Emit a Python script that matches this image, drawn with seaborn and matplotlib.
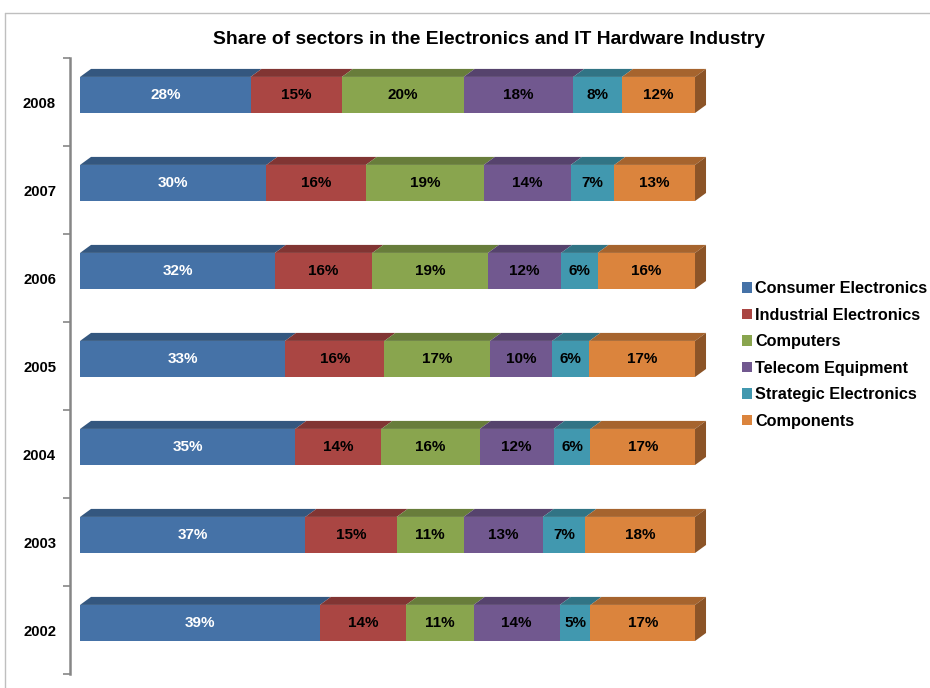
import numpy as np
import pandas as pd
import matplotlib.pyplot as plt
import seaborn as sns
from matplotlib.patches import Polygon, Patch
from matplotlib.lines import Line2D
from matplotlib.colors import to_rgb

sns.set_theme(style='white')
plt.rcParams['font.family'] = ['Liberation Sans', 'DejaVu Sans']
plt.rcParams['text.color'] = 'black'
plt.rcParams['ytick.color'] = 'black'

# Data (shares in %, as labelled)
years = ['2008', '2007', '2006', '2005', '2004', '2003', '2002']
sectors = ['Consumer Electronics', 'Industrial Electronics', 'Computers',
           'Telecom Equipment', 'Strategic Electronics', 'Components']
consumer = [28, 30, 32, 33, 35, 37, 39]
industrial = [15, 16, 16, 16, 14, 15, 14]
computers = [20, 19, 19, 17, 16, 11, 11]
telecom = [18, 14, 12, 10, 12, 13, 14]
strategic = [8, 7, 6, 6, 6, 7, 5]
components = [12, 13, 16, 17, 17, 18, 17]
colors = ['#4572A7', '#AA4643', '#89A54E', '#71588F', '#4198AF', '#DB843D']

vals = np.array([consumer, industrial, computers, telecom, strategic, components], dtype=float)
# 100% stacked: normalise each year
share = vals / vals.sum(axis=0) * 100
cum = np.cumsum(share, axis=0)

rows = []
for s_i, sec in enumerate(sectors):
    for y_i, yr in enumerate(years):
        rows.append({'year': yr, 'sector': sec, 'label': vals[s_i, y_i],
                     'left': cum[s_i, y_i] - share[s_i, y_i], 'cum': cum[s_i, y_i]})
df = pd.DataFrame(rows)

fig = plt.figure(figsize=(9.3, 6.88), dpi=100)
ax = fig.add_axes([70 / 930, 14 / 688, 645 / 930, 616 / 688])

bar_h = 0.41
# draw cumulative bars from last sector to first so they stack
for s_i in reversed(range(len(sectors))):
    sub = df[df['sector'] == sectors[s_i]]
    sns.barplot(data=sub, x='cum', y='year', order=years, orient='h', color=colors[s_i],
                saturation=1, width=bar_h, errorbar=None, linewidth=0, ax=ax)

# pseudo-3D faces
dx, dy = 1.79, 0.091
for s_i, sec in enumerate(sectors):
    base = np.array(to_rgb(colors[s_i]))
    top_c = base * 0.76
    side_c = base * 0.64
    sub = df[df['sector'] == sec]
    for _, r in sub.iterrows():
        i = years.index(r['year'])
        yt, yb = i - bar_h / 2, i + bar_h / 2
        l, rr = r['left'], r['cum']
        ax.add_patch(Polygon([(l, yt), (rr, yt), (rr + dx, yt - dy), (l + dx, yt - dy)],
                             closed=True, facecolor=top_c, edgecolor='none', zorder=3))
        if s_i == len(sectors) - 1:
            ax.add_patch(Polygon([(rr, yt), (rr + dx, yt - dy), (rr + dx, yb - dy), (rr, yb)],
                                 closed=True, facecolor=side_c, edgecolor='none', zorder=3))
        ax.text((l + rr) / 2, i, f"{int(r['label'])}%", ha='center', va='center',
                fontsize=11, fontweight='bold',
                color='white' if s_i == 0 else 'black', zorder=4)

ax.set_xlim(-1.63, 103.25)
ax.set_ylim(6.58, -0.42)
ax.set_xlabel('')
ax.set_ylabel('')
ax.set_xticks([])
ax.set_yticks(np.arange(8) - 0.42)
ax.set_yticklabels([])
ax.set_yticks(np.arange(7) + 0.08, minor=True)
ax.set_yticklabels(years, minor=True, fontsize=10.7, fontweight='bold')
ax.tick_params(axis='y', which='major', left=True, length=5, width=1.2, color='#868686')
ax.tick_params(axis='y', which='minor', left=False, length=0, pad=10)
for sp in ['top', 'right', 'bottom']:
    ax.spines[sp].set_visible(False)
ax.spines['left'].set_color('#868686')
ax.spines['left'].set_linewidth(1.8)
ax.set_facecolor('none')

fig.text(489 / 930, 1 - 40 / 688, 'Share of sectors in the Electronics and IT Hardware Industry',
         ha='center', va='center', fontsize=13.9, fontweight='bold', color='black')

handles = [Patch(facecolor=c, edgecolor='none') for c in colors]
fig.legend(handles, sectors, loc='center left', bbox_to_anchor=(742 / 930, 1 - 355 / 688),
           frameon=False, prop={'weight': 'bold', 'size': 11.7},
           handlelength=0.6, handleheight=0.6, handletextpad=0.2, labelspacing=0.71,
           borderpad=0, borderaxespad=0)

# chart area border (top and left)
fig.add_artist(Line2D([5 / 930, 5 / 930], [0, 1 - 13 / 688], color='#BFBFBF', lw=1))
fig.add_artist(Line2D([5 / 930, 1], [1 - 13 / 688, 1 - 13 / 688], color='#BFBFBF', lw=1))

fig.savefig('out.png', dpi=100)
